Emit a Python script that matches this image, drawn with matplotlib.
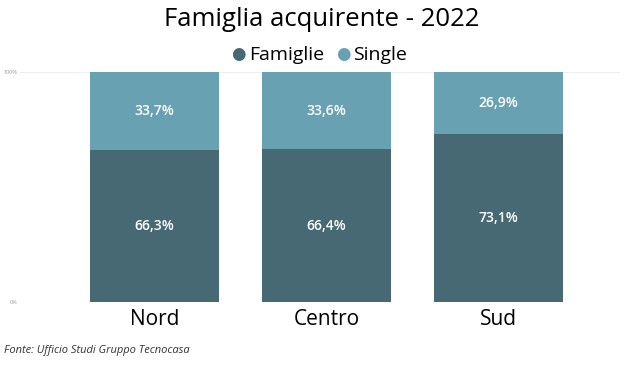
import numpy as np
import matplotlib.pyplot as plt

plt.rcParams['font.family'] = ['Open Sans', 'DejaVu Sans']

categorie = ['Nord', 'Centro', 'Sud']
famiglie = [66.3, 66.4, 73.1]
single = [33.7, 33.6, 26.9]
etichette_fam = ['66,3%', '66,4%', '73,1%']
etichette_sing = ['33,7%', '33,6%', '26,9%']

col_fam = '#466974'
col_sing = '#67a1b2'

W, H = 643, 367
fig = plt.figure(figsize=(W / 100, H / 100), dpi=100)
ax = fig.add_axes([20 / W, (H - 302) / H, 600 / W, 230 / H])

x = np.arange(len(categorie))
ax.bar(x, famiglie, width=0.75, color=col_fam, zorder=2)
ax.bar(x, single, width=0.75, bottom=famiglie, color=col_sing, zorder=2)

for i in range(len(categorie)):
    ax.text(x[i], famiglie[i] / 2, etichette_fam[i], ha='center', va='center',
            color='white', fontsize=10, fontweight='semibold')
    ax.text(x[i], famiglie[i] + single[i] / 2, etichette_sing[i], ha='center', va='center',
            color='white', fontsize=10, fontweight='semibold')

ax.set_xlim(-0.782, 2.706)
ax.set_ylim(0, 100)
ax.set_yticks([0, 100])
ax.set_yticklabels(['0%', '100%'], fontsize=4, color='#999999')
ax.yaxis.grid(True, color='#eeeeee', linewidth=0.8, zorder=0)
ax.tick_params(axis='y', length=0, pad=2)
ax.set_xticks(x)
ax.set_xticklabels(categorie, fontsize=15)
ax.tick_params(axis='x', length=0, pad=5)
for s in ax.spines.values():
    s.set_visible(False)

fig.text(322 / W, 1 - 20 / H, 'Famiglia acquirente - 2022', ha='center', va='center', fontsize=18.5)

# legenda
fig.text(238 / W, 1 - 55 / H, '●', color=col_fam, ha='center', va='center', fontsize=12)
fig.text(249 / W, 1 - 55 / H, 'Famiglie', ha='left', va='center', fontsize=14)
fig.text(343 / W, 1 - 55 / H, '●', color=col_sing, ha='center', va='center', fontsize=12)
fig.text(353 / W, 1 - 55 / H, 'Single', ha='left', va='center', fontsize=14)

fig.text(4 / W, 1 - 350 / H, 'Fonte: Ufficio Studi Gruppo Tecnocasa', ha='left', va='center',
         fontsize=8, style='italic', color='#333333')

fig.savefig('out.png', dpi=100)
